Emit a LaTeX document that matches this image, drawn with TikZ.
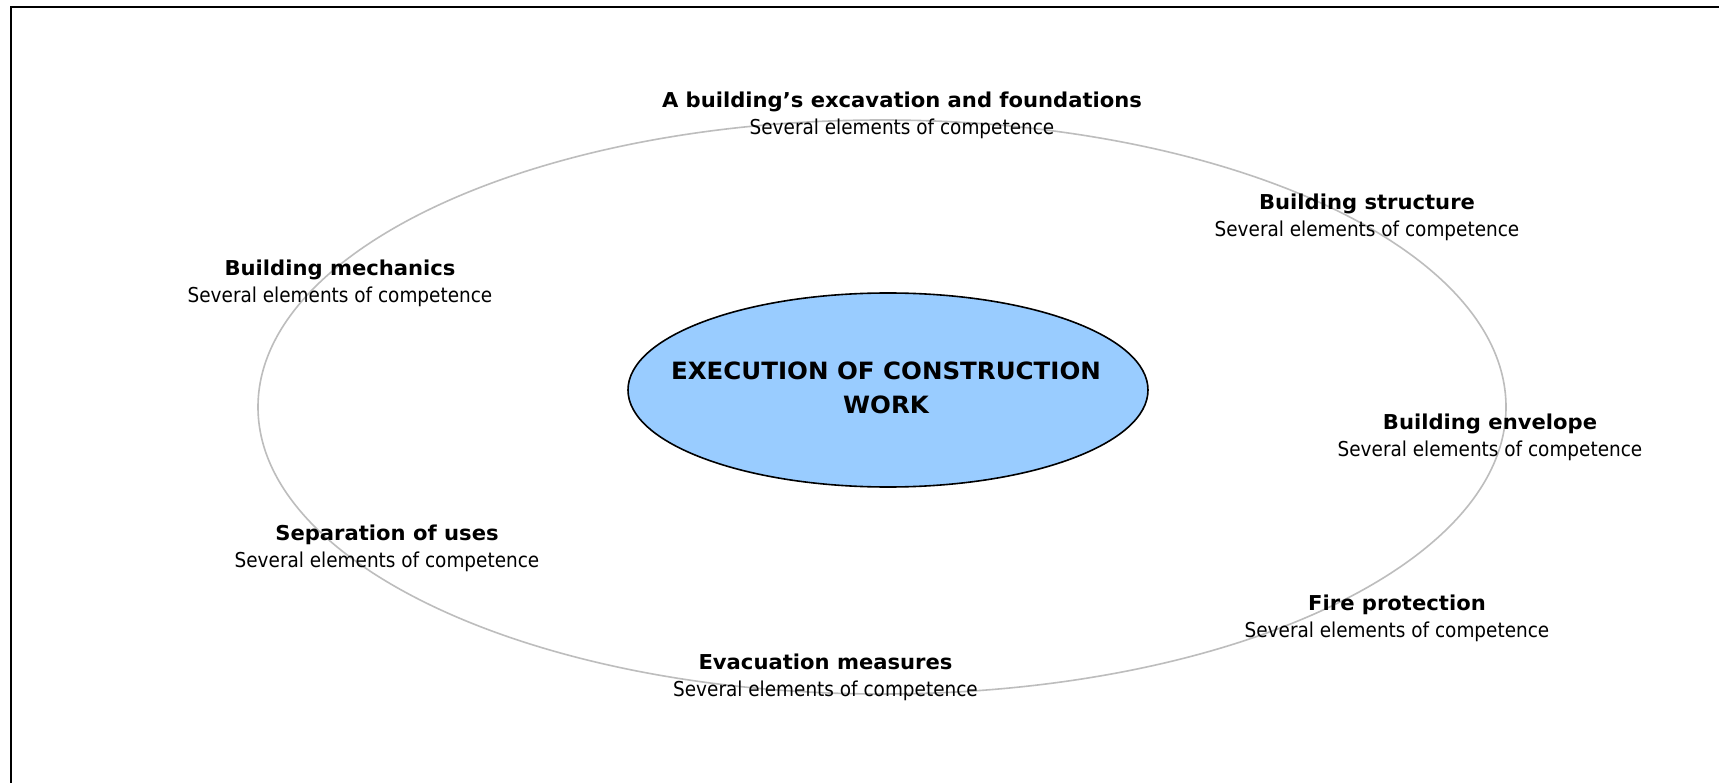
\documentclass[tikz,border=0pt]{standalone}
\usepackage{fontspec}
\usetikzlibrary{shapes.geometric}
\setmainfont{DejaVu Sans}[FakeStretch=0.9]
\newfontfamily\rfont{DejaVu Sans}[FakeStretch=0.9]
\newfontfamily\bfont{DejaVu Sans}[FakeStretch=1.03]
\definecolor{ringgray}{HTML}{BDBDBD}
\definecolor{coreblue}{HTML}{99CCFF}
\tikzset{
  lbl/.style={align=center, inner sep=0pt, font=\fontsize{20.5}{27}\selectfont},
  ring/.style={draw=ringgray, line width=1.6pt, ellipse, inner sep=0pt},
  core/.style={draw=black, line width=1.6pt, fill=coreblue, ellipse, inner sep=0pt},
  coretext/.style={align=center, inner sep=0pt, font=\bfont\bfseries\fontsize{23.8}{34}\selectfont},
  frame/.style={draw=black, line width=2.5pt}
}
\newcommand{\lab}[1]{{\bfont\bfseries #1}\\{\rfont Several elements of competence}}
\begin{document}
\begin{tikzpicture}[x=1pt,y=-1pt]
\useasboundingbox (0,0) rectangle (1719,783);
\fill[white] (0,0) rectangle (1719,783);
\coordinate (fbl) at (11,783);
\coordinate (ftl) at (11,7);
\coordinate (ftr) at (1719,7);
\draw[frame] (fbl) -- (ftl) -- (ftr);
\node[ring, minimum width=1248pt, minimum height=574pt] (ringe) at (882,407) {};
\node[core, minimum width=520pt, minimum height=194pt] (center) at (888,390) {};
\node[coretext] (centertext) at (886,388) {EXECUTION OF CONSTRUCTION\\WORK};
\node[lbl] (found) at (902,115) {\lab{A building’s excavation and foundations}};
\node[lbl] (struct) at (1367,217) {\lab{Building structure}};
\node[lbl] (mech) at (340,283) {\lab{Building mechanics}};
\node[lbl] (env) at (1490,437) {\lab{Building envelope}};
\node[lbl] (sep) at (387,548) {\lab{Separation of uses}};
\node[lbl] (fire) at (1397,618) {\lab{Fire protection}};
\node[lbl] (evac) at (825.5,677) {\lab{Evacuation measures}};
\end{tikzpicture}
\end{document}
